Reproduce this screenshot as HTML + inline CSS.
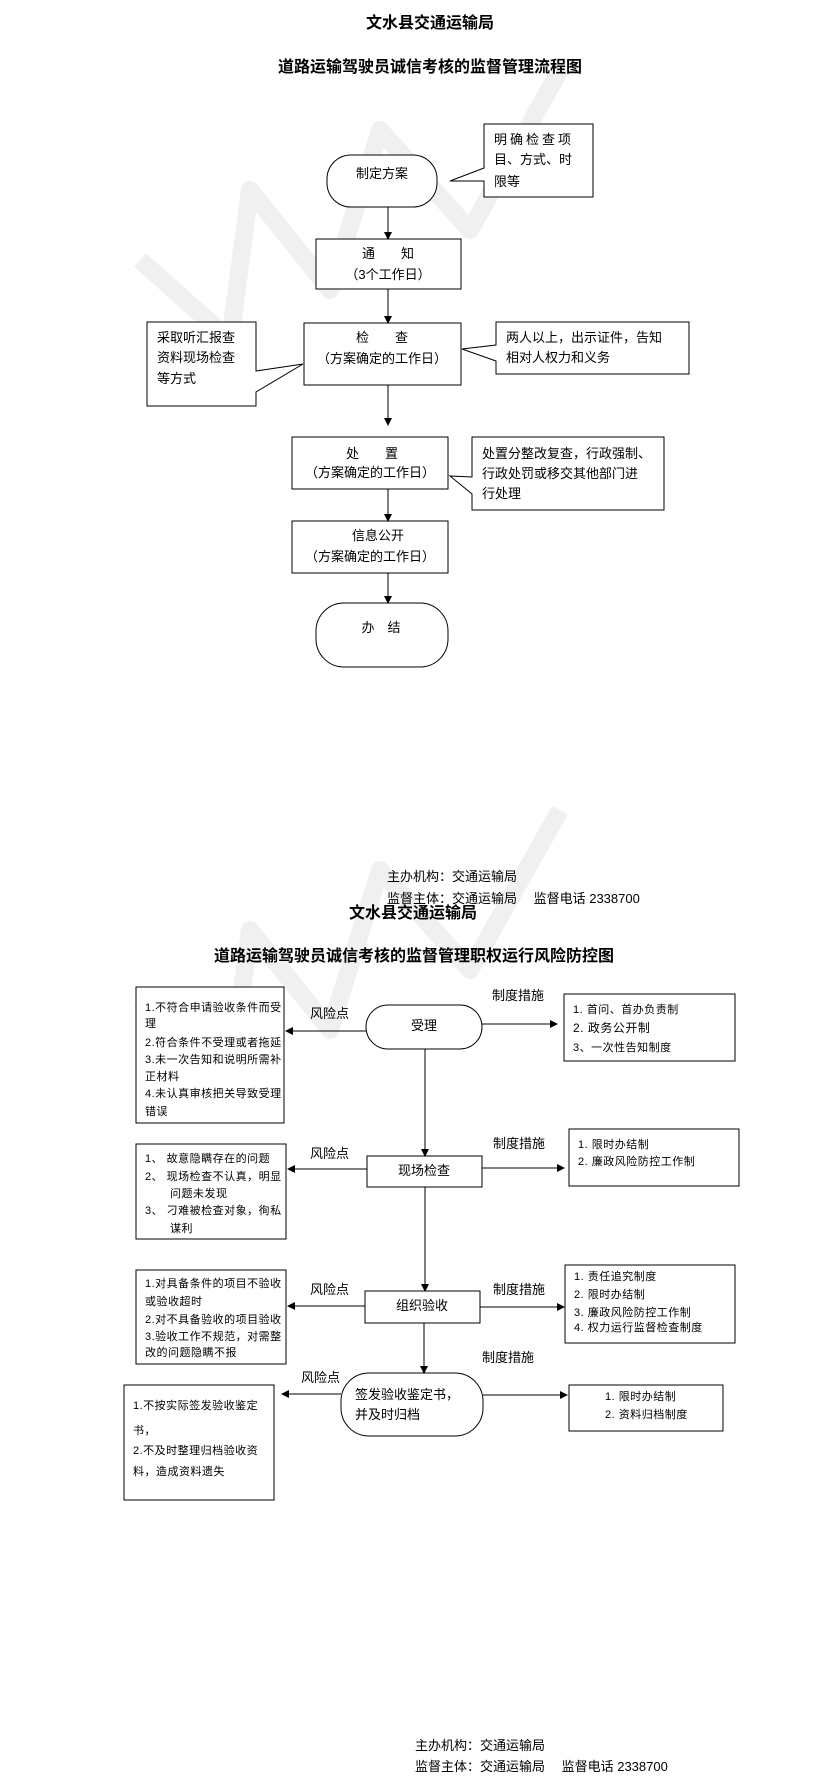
<!DOCTYPE html>
<html><head><meta charset="utf-8"><style>
body{margin:0;background:#fff}
svg{display:block}
text{font-family:"Liberation Sans","Noto Sans CJK SC",sans-serif;fill:#000}
.b{font-weight:bold;font-size:16px}
.m{font-size:13px}
.s{font-size:11px;letter-spacing:0.5px}
</style></head><body>
<svg width="823" height="1787" viewBox="0 0 823 1787" xmlns="http://www.w3.org/2000/svg">
<defs><marker id="a" markerWidth="8" markerHeight="8" refX="7" refY="4" orient="auto" markerUnits="userSpaceOnUse"><path d="M0,0 L8,4 L0,8 z" fill="#000"/></marker></defs>
<g stroke="#f0f0f0" stroke-width="18" fill="none" stroke-linejoin="round">
<path d="M140,260 L230,340 L250,190 L330,290 L380,130 L470,230 L560,70"/>
<path d="M140,1000 L230,1080 L250,930 L330,1030 L380,870 L470,970 L560,810"/>
</g>
<g stroke="#000" stroke-width="1" fill="#fff">
<rect x="327" y="155" width="110" height="52" rx="24"/>
<path d="M484,124 H593 V197 H484 V181 L450,181 L484,168 Z"/>
<rect x="316" y="239" width="145" height="50"/>
<rect x="304" y="323" width="157" height="62"/>
<path d="M147,322 H256 V371 L303,364 L256,392 V406 H147 Z"/>
<path d="M496,322 H689 V374 H496 V361 L462,349 L496,345 Z"/>
<rect x="292" y="437" width="156" height="52"/>
<path d="M472,437 H664 V510 H472 V494 L450,476 L472,477 Z"/>
<rect x="292" y="521" width="156" height="52"/>
<rect x="316" y="603" width="132" height="64" rx="28"/>
<rect x="136" y="987" width="148" height="136"/>
<rect x="366" y="1005" width="116" height="44" rx="22"/>
<rect x="564" y="994" width="171" height="67"/>
<rect x="136" y="1144" width="150" height="95"/>
<rect x="367" y="1156" width="115" height="31"/>
<rect x="569" y="1129" width="170" height="57"/>
<rect x="136" y="1270" width="150" height="94"/>
<rect x="365" y="1291" width="115" height="32"/>
<rect x="565" y="1265" width="170" height="78"/>
<rect x="124" y="1385" width="150" height="115"/>
<rect x="341" y="1373" width="142" height="63" rx="28"/>
<rect x="569" y="1385" width="154" height="46"/>
</g>
<g stroke="#000" stroke-width="1" fill="none" marker-end="url(#a)">
<line x1="388" y1="207" x2="388" y2="239"/>
<line x1="388" y1="289" x2="388" y2="323"/>
<line x1="388" y1="385" x2="388" y2="425"/>
<line x1="388" y1="489" x2="388" y2="521"/>
<line x1="388" y1="573" x2="388" y2="603"/>
<line x1="425" y1="1049" x2="425" y2="1156"/>
<line x1="425" y1="1187" x2="425" y2="1291"/>
<line x1="424" y1="1323" x2="424" y2="1373"/>
<line x1="366" y1="1031" x2="286" y2="1031"/>
<line x1="482" y1="1024" x2="557" y2="1024"/>
<line x1="367" y1="1169" x2="288" y2="1169"/>
<line x1="482" y1="1168" x2="564" y2="1168"/>
<line x1="365" y1="1306" x2="288" y2="1306"/>
<line x1="480" y1="1307" x2="564" y2="1307"/>
<line x1="341" y1="1394" x2="282" y2="1394"/>
<line x1="483" y1="1395" x2="567" y2="1395"/>
</g>
<text class="b" x="430" y="28" text-anchor="middle">文水县交通运输局</text>
<text class="b" x="430" y="72" text-anchor="middle">道路运输驾驶员诚信考核的监督管理流程图</text>
<g class="m">
<text x="382" y="178" text-anchor="middle">制定方案</text>
<text x="494" y="144" letter-spacing="3">明确检查项</text>
<text x="494" y="164">目、方式、时</text>
<text x="494" y="186">限等</text>
<text x="388" y="258" text-anchor="middle">通　　知</text>
<text x="388" y="279" text-anchor="middle">（3个工作日）</text>
<text x="382" y="342" text-anchor="middle">检　　查</text>
<text x="382" y="363" text-anchor="middle">（方案确定的工作日）</text>
<text x="157" y="342">采取听汇报查</text>
<text x="157" y="362">资料现场检查</text>
<text x="157" y="383">等方式</text>
<text x="506" y="342">两人以上，出示证件，告知</text>
<text x="506" y="362">相对人权力和义务</text>
<text x="372" y="458" text-anchor="middle">处　　置</text>
<text x="370" y="477" text-anchor="middle">（方案确定的工作日）</text>
<text x="482" y="458">处置分整改复查，行政强制、</text>
<text x="482" y="478">行政处罚或移交其他部门进</text>
<text x="482" y="498">行处理</text>
<text x="378" y="540" text-anchor="middle">信息公开</text>
<text x="370" y="561" text-anchor="middle">（方案确定的工作日）</text>
<text x="381" y="632" text-anchor="middle">办　结</text>
<text x="387" y="881">主办机构：交通运输局</text>
<text x="387" y="903">监督主体：交通运输局　 监督电话  2338700</text>
<text x="415" y="1750">主办机构：交通运输局</text>
<text x="415" y="1771">监督主体：交通运输局　 监督电话  2338700</text>
</g>
<text class="b" x="413" y="918" text-anchor="middle">文水县交通运输局</text>
<text class="b" x="414" y="961" text-anchor="middle">道路运输驾驶员诚信考核的监督管理职权运行风险防控图</text>
<g class="m">
<text x="310" y="1018">风险点</text>
<text x="492" y="1000">制度措施</text>
<text x="424" y="1030" text-anchor="middle">受理</text>
<text x="310" y="1158">风险点</text>
<text x="493" y="1148">制度措施</text>
<text x="424" y="1175" text-anchor="middle">现场检查</text>
<text x="310" y="1294">风险点</text>
<text x="493" y="1294">制度措施</text>
<text x="422" y="1310" text-anchor="middle">组织验收</text>
<text x="482" y="1362">制度措施</text>
<text x="301" y="1382">风险点</text>
<text x="355" y="1399">签发验收鉴定书，</text>
<text x="355" y="1419">并及时归档</text>
</g>
<g class="s">
<text x="145" y="1011">1.不符合申请验收条件而受</text>
<text x="145" y="1027">理</text>
<text x="145" y="1046">2.符合条件不受理或者拖延</text>
<text x="145" y="1063">3.未一次告知和说明所需补</text>
<text x="145" y="1080">正材料</text>
<text x="145" y="1097">4.未认真审核把关导致受理</text>
<text x="145" y="1115">错误</text>
<text x="573" y="1013">1. 首问、首办负责制</text>
<text x="573" y="1032" font-size="12">2. 政务公开制</text>
<text x="573" y="1051">3、一次性告知制度</text>
<text x="145" y="1162">1、   故意隐瞒存在的问题</text>
<text x="145" y="1180">2、   现场检查不认真，明显</text>
<text x="170" y="1197">问题未发现</text>
<text x="145" y="1214">3、   刁难被检查对象，徇私</text>
<text x="170" y="1232">谋利</text>
<text x="578" y="1148">1. 限时办结制</text>
<text x="578" y="1165">2. 廉政风险防控工作制</text>
<text x="145" y="1287">1.对具备条件的项目不验收</text>
<text x="145" y="1305">或验收超时</text>
<text x="145" y="1323">2.对不具备验收的项目验收</text>
<text x="145" y="1340">3.验收工作不规范，对需整</text>
<text x="145" y="1356">改的问题隐瞒不报</text>
<text x="574" y="1280">1. 责任追究制度</text>
<text x="574" y="1298">2. 限时办结制</text>
<text x="574" y="1316">3. 廉政风险防控工作制</text>
<text x="574" y="1331">4. 权力运行监督检查制度</text>
<text x="133" y="1409">1.不按实际签发验收鉴定</text>
<text x="133" y="1434">书，</text>
<text x="133" y="1454">2.不及时整理归档验收资</text>
<text x="133" y="1475">料，造成资料遗失</text>
<text x="605" y="1400">1.   限时办结制</text>
<text x="605" y="1418">2.   资料归档制度</text>
</g>
</svg>
</body></html>
